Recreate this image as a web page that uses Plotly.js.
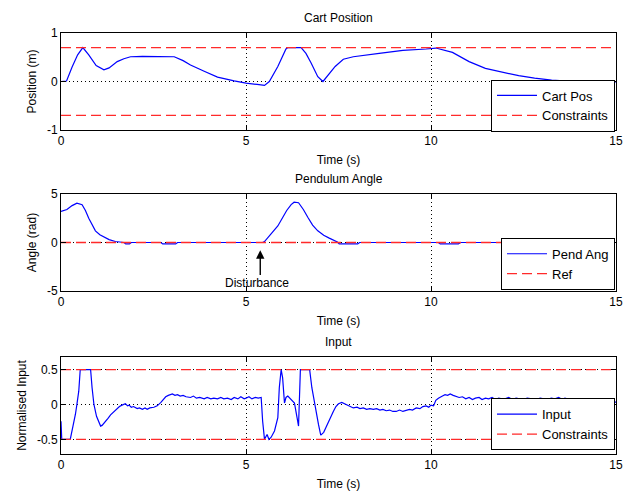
<!DOCTYPE html>
<html>
<head>
<meta charset="utf-8">
<script src="https://cdn.plot.ly/plotly-3.0.1.min.js"></script>
<style>html,body{margin:0;padding:0;background:#fff;}#chart{width:623px;height:493px;}</style>
</head>
<body>
<div id="chart"></div>
<script>
// ---------- Data ----------
var cartT = [0, 0.15, 0.3, 0.45, 0.59, 0.75, 0.95, 1.16, 1.3, 1.52, 1.7, 1.88, 2.2, 2.6, 3.06, 3.3, 3.5, 3.87, 4.23, 4.68, 5.0, 5.3, 5.5, 5.63, 5.86, 6.08, 6.13, 6.49, 6.62, 6.76, 6.94, 7.08, 7.18, 7.41, 7.63, 7.9, 8.6, 9.24, 9.87, 10.13, 10.58, 11.03, 11.47, 11.92, 12.37, 12.8, 13.26, 13.7, 14.16, 14.9, 15.0];
var cartPos = [0, 0.01, 0.3, 0.55, 0.7, 0.55, 0.33, 0.24, 0.28, 0.41, 0.47, 0.51, 0.52, 0.52, 0.51, 0.43, 0.34, 0.21, 0.09, 0.014, -0.034, -0.06, -0.08, 0.0, 0.31, 0.67, 0.7, 0.7, 0.58, 0.38, 0.1, 0.0, 0.1, 0.31, 0.46, 0.51, 0.58, 0.64, 0.67, 0.69, 0.6, 0.41, 0.27, 0.19, 0.12, 0.07, 0.03, 0.01, -0.01, -0.01, -0.01];
var cartLimit = 0.7;

var pendT = [0, 0.16, 0.3, 0.43, 0.57, 0.66, 0.75, 0.84, 0.93, 1.05, 1.16, 1.3, 1.47, 1.6, 1.7, 1.75, 1.85, 1.9, 2.0, 2.7, 2.75, 3.1, 3.15, 5.45, 5.5, 5.6, 5.7, 5.86, 6.0, 6.1, 6.22, 6.3, 6.42, 6.55, 6.67, 6.8, 6.94, 7.1, 7.25, 7.37, 7.47, 7.52, 8.02, 8.07, 10.2, 10.25, 10.74, 10.8, 15];
var pendAng = [3.2, 3.4, 3.8, 4.05, 3.9, 3.3, 2.5, 1.8, 1.2, 0.8, 0.55, 0.3, 0.1, 0.02, 0, -0.15, -0.15, 0, 0, 0, -0.15, -0.15, 0, 0, 0.1, 0.5, 1.0, 1.7, 2.6, 3.3, 3.9, 4.15, 4.1, 3.4, 2.6, 1.8, 1.2, 0.75, 0.45, 0.24, 0.05, -0.15, -0.15, 0, 0, -0.15, -0.15, 0, 0];
var pendRef = 0;

var inT = [0, 0.02, 0.25, 0.3, 0.39, 0.43, 0.48, 0.52, 0.8, 0.84, 0.89, 0.96, 1.07, 1.11, 1.2, 1.27, 1.34, 1.42, 1.52, 1.58, 1.65, 1.74, 1.8, 1.84, 1.9, 1.96, 2.06, 2.12, 2.2, 2.27, 2.33, 2.4, 2.51, 2.6, 2.7, 2.77, 2.83, 2.9, 3.01, 3.08, 3.15, 3.22, 3.3, 3.38, 3.5, 3.58, 3.66, 3.75, 3.87, 3.95, 4.05, 4.13, 4.23, 4.32, 4.4, 4.5, 4.6, 4.68, 4.78, 4.86, 4.95, 5.0, 5.08, 5.16, 5.25, 5.33, 5.41, 5.45, 5.5, 5.57, 5.62, 5.68, 5.77, 5.86, 5.9, 5.95, 5.99, 6.04, 6.08, 6.13, 6.22, 6.31, 6.38, 6.42, 6.47, 6.72, 6.78, 6.87, 6.96, 7.02, 7.1, 7.16, 7.23, 7.3, 7.36, 7.43, 7.5, 7.59, 7.66, 7.72, 7.8, 7.9, 8.0, 8.08, 8.17, 8.26, 8.35, 8.44, 8.53, 8.62, 8.7, 8.79, 8.88, 8.97, 9.06, 9.15, 9.24, 9.33, 9.42, 9.5, 9.6, 9.7, 9.78, 9.87, 9.94, 10.0, 10.07, 10.13, 10.2, 10.31, 10.38, 10.45, 10.52, 10.6, 10.67, 10.76, 10.85, 10.94, 11.03, 11.12, 11.2, 11.3, 11.38, 11.47, 11.56, 11.65, 11.74, 11.83, 11.92, 12.0, 12.1, 12.2, 12.3, 12.4, 12.5, 12.6, 12.73, 12.85, 12.95, 13.05, 13.15, 13.25, 13.35, 13.45, 13.55, 13.62, 13.72, 13.82, 13.92, 14.02, 14.12, 14.22, 14.33, 14.43, 14.53, 14.63, 14.73, 14.8, 14.87, 14.93, 15.0];
var inVal = [-0.24, -0.5, -0.5, -0.38, -0.14, 0.0, 0.19, 0.5, 0.5, 0.24, 0.0, -0.17, -0.31, -0.3, -0.25, -0.2, -0.15, -0.11, -0.06, -0.03, -0.01, 0.01, -0.02, -0.01, -0.04, -0.03, -0.06, -0.05, -0.07, -0.05, -0.07, -0.05, -0.04, -0.02, 0.03, 0.07, 0.11, 0.13, 0.15, 0.13, 0.14, 0.12, 0.13, 0.11, 0.1, 0.12, 0.09, 0.1, 0.08, 0.1, 0.08, 0.09, 0.08, 0.1, 0.08, 0.09, 0.07, 0.1, 0.08, 0.11, 0.08, 0.09, 0.11, 0.08, 0.1, 0.09, 0.1, -0.24, -0.5, -0.43, -0.5, -0.47, -0.38, -0.19, 0.24, 0.5, 0.38, 0.02, 0.1, 0.12, 0.07, 0.02, -0.19, -0.31, 0.5, 0.5, 0.24, -0.05, -0.29, -0.44, -0.4, -0.33, -0.24, -0.17, -0.1, -0.03, 0.01, 0.03, 0.01, 0.0, -0.03, -0.05, -0.04, -0.06, -0.05, -0.07, -0.06, -0.07, -0.06, -0.08, -0.07, -0.09, -0.08, -0.1, -0.1, -0.08, -0.1, -0.09, -0.07, -0.08, -0.05, -0.06, -0.03, -0.02, -0.04, -0.01, -0.02, 0.06, 0.09, 0.12, 0.14, 0.13, 0.15, 0.13, 0.12, 0.1, 0.11, 0.08, 0.1, 0.07, 0.09, 0.1, 0.07, 0.09, 0.08, 0.1, 0.07, 0.09, 0.08, 0.08, 0.1, 0.07, 0.09, 0.08, 0.07, 0.09, 0.08, 0.07, 0.09, 0.08, 0.07, 0.09, 0.08, 0.1, 0.07, 0.09, 0.08, 0.06, 0.08, 0.07, 0.06, 0.08, 0.06, 0.07, 0.05, 0.06, 0.05, 0.06, 0.04, 0.05, 0.03];
var inLimit = 0.5;

var xTicks = [0, 5, 10, 15];
var titles = ['Cart Position', 'Pendulum Angle', 'Input'];
var yTitles = ['Position (m)', 'Angle (rad)', 'Normalised Input'];
var xTitle = 'Time (s)';
var legendNames = [['Cart Pos', 'Constraints'], ['Pend Ang', 'Ref'], ['Input', 'Constraints']];
var annotText = 'Disturbance';
var disturbT = 5.385;

// ---------- Build ----------
var FONT = 'Liberation Sans, Arial, sans-serif';
var BLUE = '#0000ff', RED = '#ff2a2a';
var dashStyle = '10px,5px';
var xr = [0, 15];

function hline(val, name, leg, xa, ya, show) {
  return {x: xr, y: [val, val], mode: 'lines', name: name, legend: leg, showlegend: show,
    xaxis: xa, yaxis: ya, line: {color: RED, width: 1.3, dash: dashStyle}, hoverinfo: 'skip'};
}
function curve(t, v, name, leg, xa, ya) {
  return {x: t, y: v, mode: 'lines', name: name, legend: leg, xaxis: xa, yaxis: ya,
    line: {color: BLUE, width: 1.2}};
}

var traces = [
  curve(cartT, cartPos, legendNames[0][0], 'legend', 'x', 'y'),
  hline(cartLimit, legendNames[0][1], 'legend', 'x', 'y', true),
  hline(-cartLimit, legendNames[0][1], 'legend', 'x', 'y', false),
  curve(pendT, pendAng, legendNames[1][0], 'legend2', 'x2', 'y2'),
  hline(pendRef, legendNames[1][1], 'legend2', 'x2', 'y2', true),
  curve(inT, inVal, legendNames[2][0], 'legend3', 'x3', 'y3'),
  hline(inLimit, legendNames[2][1], 'legend3', 'x3', 'y3', true),
  hline(-inLimit, legendNames[2][1], 'legend3', 'x3', 'y3', false)
];

function xax(anchor) {
  return {anchor: anchor, range: xr, tickvals: xTicks, ticktext: xTicks.map(String),
    ticks: 'inside', ticklen: 5, tickcolor: '#000', showline: true, linecolor: '#000', linewidth: 1,
    mirror: 'ticks', showgrid: true, gridcolor: '#000', griddash: '1px,3px', gridwidth: 1, zeroline: false,
    tickfont: {size: 12, color: '#000'}, ticklabeloverflow: 'allow',
    title: {text: xTitle, standoff: 8, font: {size: 12, color: '#000'}}, automargin: false, fixedrange: true};
}
function yax(anchor, dom, rng, ticks, title) {
  return {anchor: anchor, domain: dom, range: rng, tickvals: ticks, ticktext: ticks.map(String),
    ticks: 'inside', ticklen: 5, tickcolor: '#000', showline: true, linecolor: '#000', linewidth: 1,
    mirror: 'ticks', showgrid: true, gridcolor: '#000', griddash: '1px,3px', gridwidth: 1, zeroline: false,
    tickfont: {size: 12, color: '#000'},
    title: {text: title, standoff: 7, font: {size: 12, color: '#000'}}, automargin: false, fixedrange: true};
}

var doms = [[0.7696, 1], [0.3872, 0.6176], [0, 0.2304]];

function legendCfg(y) {
  return {x: 0.9982, xanchor: 'right', y: y, yanchor: 'bottom', xref: 'paper', yref: 'paper',
    bgcolor: '#fff', bordercolor: '#000', borderwidth: 1, font: {size: 13, color: '#000', family: FONT},
    tracegroupgap: 0, itemwidth: 40};
}

var annotations = [];
for (var i = 0; i < 3; i++) {
  annotations.push({text: titles[i], xref: 'paper', yref: 'paper', x: 0.5, y: doms[i][1],
    yanchor: 'bottom', yshift: 6, showarrow: false, font: {size: 12, color: '#000'}});
}
annotations.push({x: disturbT, y: -0.8, ax: disturbT, ay: -3.5, xref: 'x2', yref: 'y2', axref: 'x2', ayref: 'y2',
  text: '', showarrow: true, arrowhead: 2, arrowsize: 1.2, arrowwidth: 1.4, arrowcolor: '#000'});
annotations.push({x: 5.31, y: -4.2, xref: 'x2', yref: 'y2', text: annotText, showarrow: false,
  font: {size: 12, color: '#000'}});

var layout = {
  width: 623, height: 493,
  margin: {l: 61, r: 7, t: 33, b: 39, pad: 0},
  paper_bgcolor: '#fff', plot_bgcolor: '#fff',
  font: {family: FONT, size: 12, color: '#000'},
  showlegend: true,
  xaxis: xax('y'), xaxis2: xax('y2'), xaxis3: xax('y3'),
  yaxis: yax('x', doms[0], [-1, 1], [-1, 0, 1], yTitles[0]),
  yaxis2: yax('x2', doms[1], [-5, 5], [-5, 0, 5], yTitles[1]),
  yaxis3: yax('x3', doms[2], [-0.71, 0.68], [-0.5, 0, 0.5], yTitles[2]),
  legend: legendCfg(0.766), legend2: legendCfg(0.39), legend3: legendCfg(0.009),
  annotations: annotations
};

Plotly.newPlot('chart', traces, layout, {displayModeBar: false, staticPlot: true});
</script>
</body>
</html>
